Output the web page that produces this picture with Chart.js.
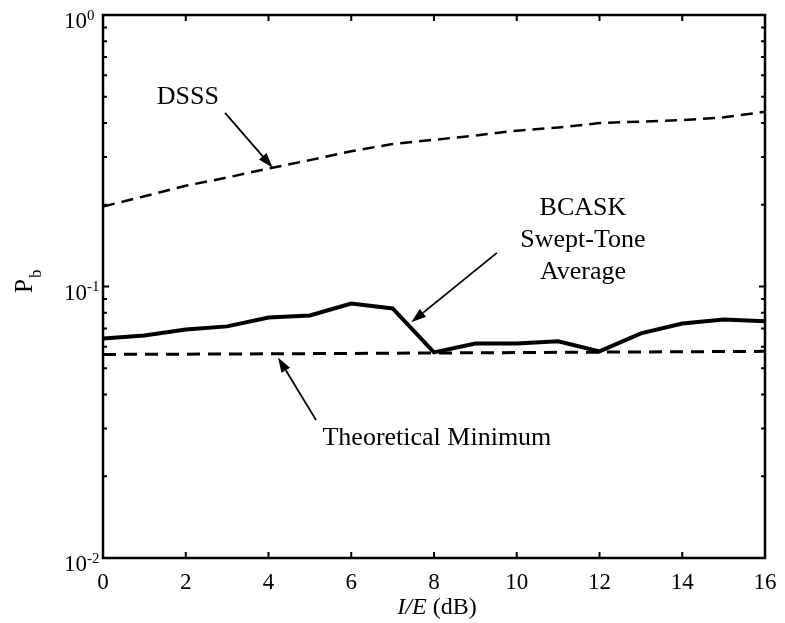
<!DOCTYPE html>
<html>
<head>
<meta charset="utf-8">
<title>Pb vs I/E</title>
<script src="https://cdn.jsdelivr.net/npm/chart.js@4.4.0/dist/chart.umd.min.js"></script>
<style>
  html, body { margin: 0; padding: 0; background: #fff; }
  canvas { display: block; }
</style>
</head>
<body>
<canvas id="pbChart" width="785" height="623"></canvas>
<script>
// interference-to-signal ratio sweep, dB
const ieDb = [0, 1, 2, 3, 4, 5, 6, 7, 8, 9, 10, 11, 12, 13, 14, 15, 16];

// bit error probability for each scheme
const dsssPb  = [0.197, 0.215, 0.235, 0.252, 0.272, 0.292, 0.315, 0.335, 0.347,
                 0.360, 0.375, 0.385, 0.400, 0.405, 0.410, 0.420, 0.440];
const bcaskPb = [0.0644, 0.0660, 0.0695, 0.0713, 0.0769, 0.0782, 0.0866, 0.0830, 0.0572,
                 0.0617, 0.0617, 0.0628, 0.0577, 0.0672, 0.0731, 0.0756, 0.0744];
const theoryDb = [0, 4, 8, 12, 16];
const theoryPb = [0.0562, 0.0565, 0.0569, 0.0573, 0.0577];

// axis ticks
const xTickValues = [0, 2, 4, 6, 8, 10, 12, 14, 16];
const yDecades = [-2, -1, 0];

const FONT = '"Liberation Serif", "DejaVu Serif", serif';

// callout text and arrows, placed in data coordinates
const callouts = [
  { lines: ['DSSS'], at: [2.05, 0.50] },
  { lines: ['BCASK', 'Swept-Tone', 'Average'], at: [11.6, 0.195] },
  { lines: ['Theoretical Minimum'], at: [8.07, 0.0276] }
];
const arrows = [
  { from: [2.95, 0.436], to: [4.1, 0.274] },
  { from: [9.52, 0.133], to: [7.45, 0.0738] },
  { from: [5.15, 0.0322], to: [4.23, 0.0548] }
];

function pts(xs, ys) {
  return xs.map((x, i) => ({ x: x, y: ys[i] }));
}

function drawArrow(ctx, x1, y1, x2, y2) {
  const ang = Math.atan2(y2 - y1, x2 - x1);
  const len = 15, half = 5;
  const bx = x2 - len * Math.cos(ang), by = y2 - len * Math.sin(ang);
  ctx.beginPath();
  ctx.moveTo(x1, y1);
  ctx.lineTo(bx, by);
  ctx.lineWidth = 1.8;
  ctx.stroke();
  ctx.beginPath();
  ctx.moveTo(x2, y2);
  ctx.lineTo(bx + half * Math.sin(ang), by - half * Math.cos(ang));
  ctx.lineTo(bx - half * Math.sin(ang), by + half * Math.cos(ang));
  ctx.closePath();
  ctx.fill();
}

// frame, inward ticks, labels and callouts
const framePlugin = {
  id: 'frame',
  beforeDraw(chart) {
    const ctx = chart.ctx;
    ctx.save();
    ctx.fillStyle = '#fff';
    ctx.fillRect(0, 0, chart.width, chart.height);
    ctx.restore();
  },
  afterDatasetsDraw(chart) {
    const ctx = chart.ctx;
    const area = chart.chartArea;
    const xs = chart.scales.x, ys = chart.scales.y;
    ctx.save();
    ctx.strokeStyle = '#000';
    ctx.fillStyle = '#000';

    // box
    ctx.lineWidth = 2.5;
    ctx.strokeRect(area.left, area.top, area.right - area.left, area.bottom - area.top);

    // x ticks, top and bottom
    ctx.lineWidth = 2;
    ctx.font = '23px ' + FONT;
    ctx.textAlign = 'center';
    ctx.textBaseline = 'middle';
    xTickValues.forEach(v => {
      const px = xs.getPixelForValue(v);
      ctx.beginPath();
      ctx.moveTo(px, area.bottom);
      ctx.lineTo(px, area.bottom - 6);
      ctx.moveTo(px, area.top);
      ctx.lineTo(px, area.top + 6);
      ctx.stroke();
      ctx.fillText(String(v), px, area.bottom + 25);
    });

    // y ticks: majors at decades, minors at 2..9
    yDecades.forEach((d, i) => {
      const py = ys.getPixelForValue(Math.pow(10, d));
      ctx.beginPath();
      ctx.moveTo(area.left, py);
      ctx.lineTo(area.left + 6, py);
      ctx.moveTo(area.right, py);
      ctx.lineTo(area.right - 6, py);
      ctx.stroke();

      ctx.font = '23px ' + FONT;
      ctx.textAlign = 'right';
      ctx.fillText('10', area.left - 16, py + 7);
      ctx.font = '15px ' + FONT;
      ctx.textAlign = 'left';
      ctx.fillText(String(d), area.left - 16, py + 1);

      if (i < yDecades.length - 1) {
        for (let m = 2; m <= 9; m++) {
          const pm = ys.getPixelForValue(m * Math.pow(10, d));
          ctx.beginPath();
          ctx.moveTo(area.left, pm);
          ctx.lineTo(area.left + 4, pm);
          ctx.moveTo(area.right, pm);
          ctx.lineTo(area.right - 4, pm);
          ctx.stroke();
        }
      }
    });

    // x axis title: italic I/E then (dB)
    const xMid = (area.left + area.right) / 2 + 3;
    ctx.textBaseline = 'middle';
    ctx.font = 'italic 24px ' + FONT;
    const wIt = ctx.measureText('I/E').width;
    ctx.font = '24px ' + FONT;
    const wRest = ctx.measureText(' (dB)').width;
    let tx = xMid - (wIt + wRest) / 2;
    ctx.textAlign = 'left';
    ctx.font = 'italic 24px ' + FONT;
    ctx.fillText('I/E', tx, 608);
    ctx.font = '24px ' + FONT;
    ctx.fillText(' (dB)', tx + wIt, 608);

    // y axis title: P with subscript b
    ctx.save();
    ctx.translate(32, 286);
    ctx.rotate(-Math.PI / 2);
    ctx.textBaseline = 'alphabetic';
    ctx.textAlign = 'center';
    ctx.font = '25px ' + FONT;
    ctx.fillText('P', 0, 0);
    ctx.textAlign = 'left';
    ctx.font = '17px ' + FONT;
    ctx.fillText('b', 8, 9);
    ctx.restore();

    // callouts
    ctx.font = '26px ' + FONT;
    ctx.textAlign = 'center';
    ctx.textBaseline = 'middle';
    callouts.forEach(c => {
      const cx = xs.getPixelForValue(c.at[0]);
      const cy = ys.getPixelForValue(c.at[1]);
      c.lines.forEach((t, k) => ctx.fillText(t, cx, cy + k * 32));
    });
    arrows.forEach(a => {
      drawArrow(ctx,
        xs.getPixelForValue(a.from[0]), ys.getPixelForValue(a.from[1]),
        xs.getPixelForValue(a.to[0]), ys.getPixelForValue(a.to[1]));
    });
    ctx.restore();
  }
};

new Chart(document.getElementById('pbChart'), {
  type: 'line',
  data: {
    datasets: [
      {
        label: 'DSSS',
        data: pts(ieDb, dsssPb),
        borderColor: '#000',
        borderWidth: 2.5,
        borderDash: [12, 7],
        pointRadius: 0,
        tension: 0
      },
      {
        label: 'BCASK Swept-Tone Average',
        data: pts(ieDb, bcaskPb),
        borderColor: '#000',
        borderWidth: 4,
        pointRadius: 0,
        tension: 0
      },
      {
        label: 'Theoretical Minimum',
        data: pts(theoryDb, theoryPb),
        borderColor: '#000',
        borderWidth: 3,
        borderDash: [13, 8],
        pointRadius: 0,
        tension: 0
      }
    ]
  },
  options: {
    responsive: false,
    animation: false,
    devicePixelRatio: 1,
    layout: { padding: { left: 103, top: 15, right: 20, bottom: 65 } },
    plugins: {
      legend: { display: false },
      tooltip: { enabled: false }
    },
    scales: {
      x: { type: 'linear', min: 0, max: 16, display: false },
      y: { type: 'logarithmic', min: 0.01, max: 1, display: false }
    }
  },
  plugins: [framePlugin]
});
</script>
</body>
</html>
